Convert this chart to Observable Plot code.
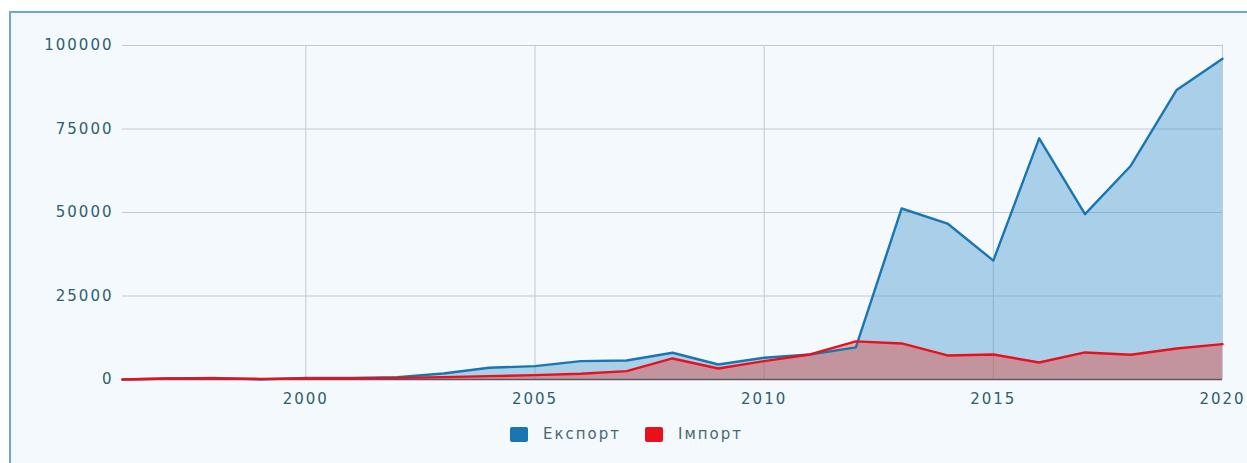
<!DOCTYPE html>
<html>
<head>
<meta charset="utf-8">
<script src="https://cdn.jsdelivr.net/npm/d3@7"></script>
<script src="https://cdn.jsdelivr.net/npm/@observablehq/plot@0.6"></script>
<style>
  html, body { margin: 0; padding: 0; background: #ffffff; width: 1247px; height: 463px; overflow: hidden; }
  #frame { position: absolute; left: 9px; top: 11px; width: 1300px; height: 500px;
           border-left: 2px solid #6aa5de; border-top: 2px solid #6aa5de; background: #f3f9fd; box-sizing: border-box; }
  #chart { position: absolute; left: 0; top: 0; }
  #legend { position: absolute; top: 426px; left: 510px; display: flex;
            font-family: "DejaVu Sans", sans-serif; font-size: 15px; letter-spacing: 2px; color: #4a6670; line-height: 16px; }
  .item { display: flex; align-items: center; margin-right: 24px; }
  .sw { width: 18px; height: 15px; border-radius: 2px; margin-right: 15px; }
  svg text { letter-spacing: 2px; }
</style>
</head>
<body>
<div id="frame"></div>
<div id="chart"></div>
<div id="legend"></div>
<script>
const years = [1996,1997,1998,1999,2000,2001,2002,2003,2004,2005,2006,2007,2008,2009,2010,2011,2012,2013,2014,2015,2016,2017,2018,2019,2020];
const exportValues = [0,300,500,0,500,500,700,1800,3500,4000,5500,5700,8000,4500,6500,7500,9600,51200,46700,35600,72200,49500,64000,86700,96000];
const importValues = [0,300,300,200,300,300,500,700,1000,1300,1700,2500,6300,3300,5500,7500,11400,10800,7200,7500,5100,8100,7400,9300,10600];
const seriesNames = ["Експорт", "Імпорт"];
const seriesColors = ["#1b75b0", "#e8111b"];
const yTicks = [0, 25000, 50000, 75000, 100000];
const xTicks = [2000, 2005, 2010, 2015, 2020];

const exportData = years.map((y, i) => ({year: y, value: exportValues[i]}));
const importData = years.map((y, i) => ({year: y, value: importValues[i]}));

const chart = Plot.plot({
  width: 1247,
  height: 410,
  marginLeft: 122,
  marginRight: 25,
  marginTop: 45,
  marginBottom: 31,
  style: {background: "transparent", fontFamily: "DejaVu Sans, sans-serif", fontSize: "15px", color: "#2f5f6a"},
  x: {domain: [1996, 2020], label: null},
  y: {domain: [0, 100000], label: null},
  marks: [
    Plot.gridY(yTicks, {stroke: "#c3c9cf", strokeOpacity: 1}),
    Plot.gridX(xTicks, {stroke: "#c3c9cf", strokeOpacity: 1}),
    Plot.areaY(exportData, {x: "year", y: "value", fill: "#3a93c8", fillOpacity: 0.4}),
    Plot.areaY(importData, {x: "year", y: "value", fill: "#f52514", fillOpacity: 0.35}),
    Plot.ruleY([0], {stroke: "#5d5560", strokeWidth: 1.5}),
    Plot.lineY(exportData, {x: "year", y: "value", stroke: seriesColors[0], strokeWidth: 2.4}),
    Plot.lineY(importData, {x: "year", y: "value", stroke: seriesColors[1], strokeWidth: 2.4}),
    Plot.axisX({ticks: xTicks, tickFormat: d => String(d), tickSize: 0, tickPadding: 14, fill: "#2f5f6a"}),
    Plot.axisY({ticks: yTicks, tickFormat: d => String(d), tickSize: 0, tickPadding: 9, fill: "#2f5f6a"})
  ]
});
document.getElementById("chart").appendChild(chart);

const legend = document.getElementById("legend");
seriesNames.forEach((n, i) => {
  const it = document.createElement("div");
  it.className = "item";
  const sw = document.createElement("div");
  sw.className = "sw";
  sw.style.background = seriesColors[i];
  const t = document.createElement("span");
  t.textContent = n;
  it.appendChild(sw); it.appendChild(t);
  legend.appendChild(it);
});
</script>
</body>
</html>
